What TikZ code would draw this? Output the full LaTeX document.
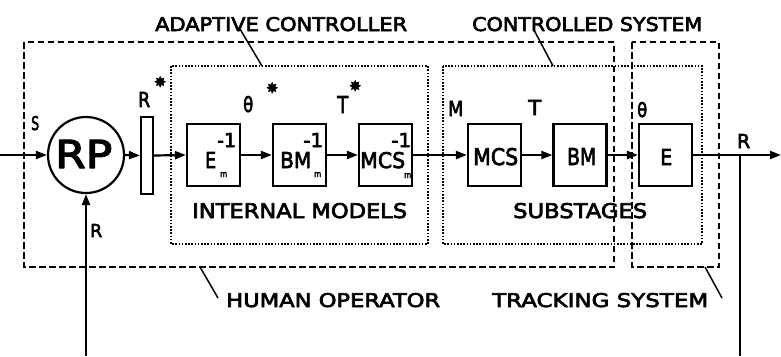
\documentclass[tikz,border=0pt]{standalone}
\usepackage{fontspec}
\setmainfont{DejaVu Sans}
\usepackage{graphicx}
\usetikzlibrary{arrows.meta}

% lettering with a thin outline stroke added, for a plotter-pen weight
\newcommand{\penweight}[1]{\special{pdf:literal direct 0.32 w 1 J 1 j 2 Tr}#1\special{pdf:literal direct 0 Tr}}
% text brought to a given width and cap height (in pt)
\newcommand{\capsto}[3]{\resizebox{#1pt}{#2pt}{\penweight{#3}}}
\newcommand{\starmark}{\resizebox{12pt}{!}{\penweight{✸}}}

\tikzset{
  wire/.style={line width=2.2pt},
  flow/.style={wire, -{Triangle[length=11pt,width=8pt]}},
  blockbox/.style={draw, line width=2.2pt, minimum width=53pt, minimum height=62pt, inner sep=0pt},
  groupdash/.style={line width=2pt, dash pattern=on 6.5pt off 3.5pt},
  groupdot/.style={line width=2pt, dash pattern=on 1.6pt off 1.6pt},
  leader/.style={line width=1.5pt},
  txt/.style={inner sep=0pt, anchor=base west},
}

\begin{document}
\begin{tikzpicture}[x=1pt,y=-1pt]
\fill[white] (0,0) rectangle (781,356);
\useasboundingbox (0,0) rectangle (781,356);

% grouping frames
\draw[groupdash] (24,42) rectangle (614,267);
\draw[groupdash] (632,42) rectangle (719,267);
\draw[groupdot] (171,66) rectangle (428,244);
\draw[groupdot] (443,66) rectangle (702,244);

% blocks
\node[draw, circle, line width=2.2pt, minimum size=76pt, inner sep=0pt] (rp) at (86,155) {};
\node[draw, line width=2.2pt, minimum width=12pt, minimum height=77pt, inner sep=0pt] (bar) at (147,155.5) {};
\node[blockbox] (einv)   at (213.5,155) {};
\node[blockbox] (bminv)  at (299.5,155) {};
\node[blockbox] (mcsinv) at (385.5,155) {};
\node[blockbox] (mcs)    at (494.5,155) {};
\node[blockbox] (bm)     at (580,155) {};
\node[blockbox] (e)      at (665.5,155) {};

% free ends
\coordinate (src) at (0,155);
\coordinate (fb) at (86,356);
\coordinate (sink) at (781,155);
\coordinate (tap) at (740,155);
\coordinate (tapend) at (740,356);

% signal flow
\draw[flow] (src) -- (rp.west);
\draw[flow] (rp.east) -- (bar.west);
\draw[flow] (bar.east) -- (einv.west);
\draw[flow] (einv.east) -- (bminv.west);
\draw[flow] (bminv.east) -- (mcsinv.west);
\draw[flow] (mcsinv.east) -- (mcs.west);
\draw[flow] (mcs.east) -- (bm.west);
\draw[flow] (bm.east) -- (e.west);
\draw[flow] (e.east) -- (sink);
\draw[flow] (fb) -- (rp.south);
\draw[wire] (tap) -- (tapend);

% block texts
\node[txt] (rptext) at (55,168) {\capsto{57}{28}{RP}};
\node[txt] (einvtext) at (205,168) {\capsto{11}{16}{E}};
\node[txt] (einvexp) at (217,147) {\capsto{19}{14}{-1}};
\node[txt] (einvsub) at (220,177) {\capsto{7}{5}{m}};
\node[txt] (bminvtext) at (280,168) {\capsto{31}{16}{BM}};
\node[txt] (bminvexp) at (303,147) {\capsto{20}{14}{-1}};
\node[txt] (bminvsub) at (314,177) {\capsto{7}{5}{m}};
\node[txt] (mcsinvtext) at (360,168) {\capsto{45}{16}{MCS}};
\node[txt] (mcsinvexp) at (391,147) {\capsto{20}{14}{-1}};
\node[txt] (mcsinvsub) at (404,178) {\capsto{7}{5}{m}};
\node[txt] (mcstext) at (473,165) {\capsto{45}{17}{MCS}};
\node[txt] (bmtext) at (567,165) {\capsto{29}{17}{BM}};
\node[txt] (etext) at (660,165) {\capsto{12}{16}{E}};

% signal names
\node[txt] (sname) at (31,130) {\capsto{8}{14}{S}};
\node[txt] (rfbname) at (90,237) {\capsto{12}{13}{R}};
\node[txt] (rstar) at (138,107) {\capsto{12}{15}{R}};
\node[txt] (rstarmark) at (154,87) {\starmark};
\node[txt] (thstar) at (243,112) {\capsto{10}{16}{θ}};
\node[txt] (thstarmark) at (266,93) {\starmark};
\node[txt] (tstar) at (337,113) {\capsto{11}{17}{T}};
\node[txt] (tstarmark) at (349,91) {\starmark};
\node[txt] (mname) at (448,116) {\capsto{15}{15}{M}};
\node[txt] (tname) at (528,115) {\capsto{13}{15}{T}};
\node[txt] (thname) at (637,117) {\capsto{10}{15}{θ}};
\node[txt] (routname) at (737,148) {\capsto{13}{14}{R}};

% group captions with leaders
\node[txt] (capac) at (155,31) {\capsto{252}{14}{ADAPTIVE CONTROLLER}};
\node[txt] (capcs) at (472,31) {\capsto{230}{14}{CONTROLLED SYSTEM}};
\node[txt] (capho) at (226,307) {\capsto{214}{14}{HUMAN OPERATOR}};
\node[txt] (capts) at (492,307) {\capsto{216}{14}{TRACKING SYSTEM}};
\node[txt] (capim) at (192,218) {\capsto{215}{15}{INTERNAL MODELS}};
\node[txt] (capss) at (513,218) {\capsto{134}{15}{SUBSTAGES}};

\coordinate (acfrom) at (240,29);  \coordinate (acto) at (262,66);
\coordinate (csfrom) at (534,30);  \coordinate (csto) at (553,66);
\coordinate (hofrom) at (218,298); \coordinate (hoto) at (200,267);
\coordinate (tsfrom) at (722,298); \coordinate (tsto) at (705,267);
\draw[leader] (acfrom) -- (acto);
\draw[leader] (csfrom) -- (csto);
\draw[leader] (hofrom) -- (hoto);
\draw[leader] (tsfrom) -- (tsto);
\end{tikzpicture}
\end{document}
